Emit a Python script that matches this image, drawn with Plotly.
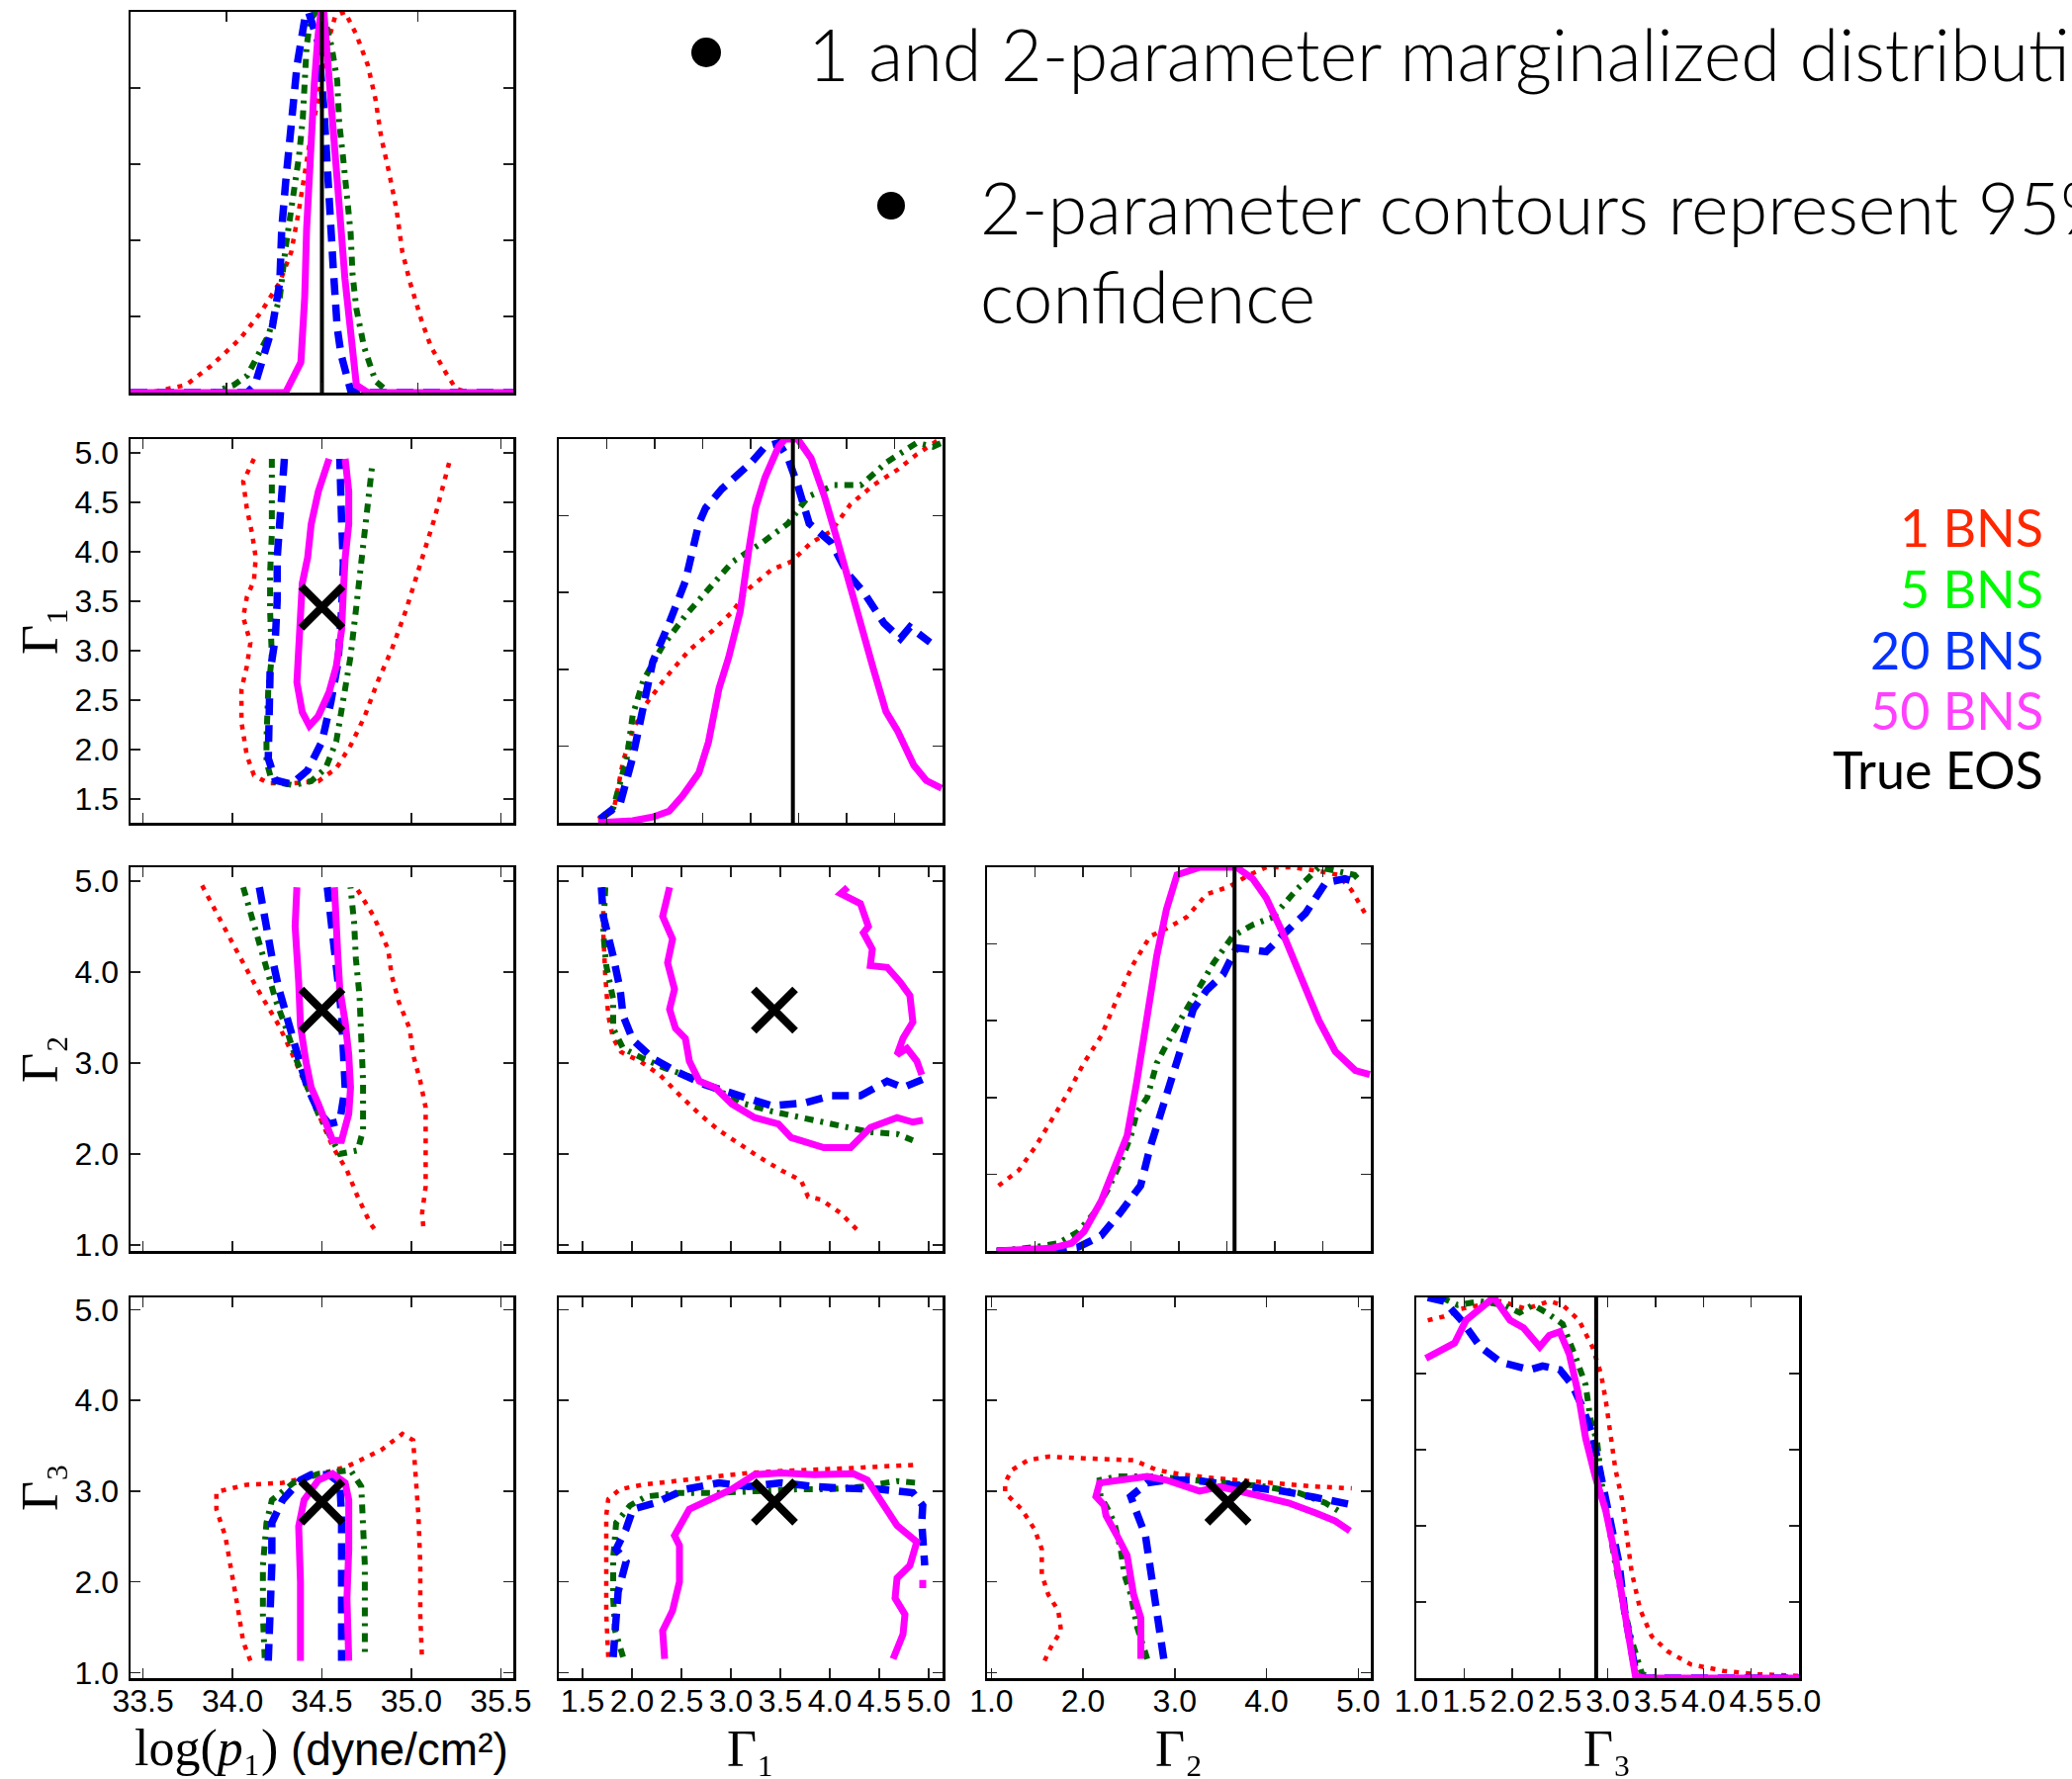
import plotly.graph_objects as go

W, H = 2095, 1799

# ---------------- true parameter values ----------------
TRUE_LOGP1 = 34.5
TRUE_G1 = 3.44
TRUE_G2 = 3.58
TRUE_G3 = 2.88

LEGEND_LABELS = ["1 BNS", "5 BNS", "20 BNS", "50 BNS", "True EOS"]

# ---------------- 1-D marginals (x, normalized density) ----------------
h_logp_red = [(33.50,0.0),(33.63,0.003),(33.79,0.02),(33.92,0.07),(34.07,0.14),(34.18,0.21),(34.28,0.29),(34.34,0.37),(34.38,0.48),(34.41,0.58),(34.44,0.67),(34.48,0.77),(34.52,0.90),(34.57,0.99),(34.62,1.0),(34.68,0.94),(34.74,0.86),(34.78,0.77),(34.81,0.67),(34.85,0.58),(34.89,0.48),(34.92,0.37),(34.96,0.29),(35.02,0.19),(35.07,0.12),(35.15,0.05),(35.20,0.01),(35.27,0.0),(35.50,0.0)]
h_logp_green = [(33.50,0.0),(33.93,0.0),(34.04,0.02),(34.11,0.045),(34.22,0.15),(34.28,0.25),(34.31,0.38),(34.35,0.52),(34.38,0.62),(34.40,0.72),(34.41,0.83),(34.42,0.91),(34.44,0.98),(34.47,1.0),(34.52,0.97),(34.55,0.91),(34.58,0.82),(34.59,0.71),(34.61,0.62),(34.63,0.51),(34.65,0.42),(34.66,0.31),(34.68,0.22),(34.72,0.12),(34.78,0.03),(34.85,0.0),(35.50,0.0)]
h_logp_blue = [(33.50,0.0),(34.11,0.0),(34.15,0.02),(34.18,0.07),(34.24,0.17),(34.28,0.29),(34.29,0.43),(34.31,0.55),(34.33,0.67),(34.35,0.77),(34.37,0.86),(34.39,0.92),(34.41,0.98),(34.43,1.0),(34.48,0.92),(34.51,0.75),(34.526,0.60),(34.544,0.41),(34.56,0.32),(34.58,0.17),(34.60,0.10),(34.65,0.006),(34.68,0.0),(35.50,0.0)]
h_logp_mag = [(33.50,0.0),(34.31,0.0),(34.39,0.08),(34.41,0.25),(34.42,0.43),(34.44,0.64),(34.46,0.81),(34.48,0.94),(34.495,1.0),(34.51,1.0),(34.52,0.94),(34.55,0.77),(34.58,0.60),(34.60,0.43),(34.62,0.30),(34.65,0.15),(34.68,0.02),(34.74,0.0),(35.50,0.0)]

h_g1_red = [(1.41,0.01),(1.57,0.03),(1.67,0.16),(1.77,0.24),(1.91,0.31),(2.12,0.38),(2.36,0.45),(2.60,0.50),(2.81,0.55),(2.98,0.61),(3.22,0.66),(3.42,0.68),(3.63,0.73),(3.84,0.76),(4.04,0.83),(4.28,0.88),(4.53,0.92),(4.73,0.96),(4.97,1.0)]
h_g1_green = [(1.43,0.01),(1.57,0.04),(1.71,0.17),(1.77,0.28),(1.88,0.37),(2.08,0.46),(2.32,0.54),(2.56,0.61),(2.81,0.68),(3.12,0.73),(3.39,0.78),(3.60,0.85),(3.87,0.88),(4.15,0.88),(4.42,0.94),(4.73,0.99),(4.90,0.98),(4.99,0.99)]
h_g1_blue = [(1.43,0.01),(1.64,0.05),(1.77,0.17),(1.88,0.30),(1.98,0.42),(2.15,0.52),(2.32,0.63),(2.46,0.78),(2.53,0.82),(2.70,0.87),(2.87,0.91),(3.01,0.94),(3.15,0.98),(3.29,0.99),(3.39,0.95),(3.49,0.88),(3.61,0.78),(3.84,0.73),(4.01,0.65),(4.18,0.60),(4.39,0.52),(4.56,0.48),(4.66,0.51),(4.87,0.47)]
h_g1_mag = [(1.41,0.0),(1.77,0.005),(1.98,0.015),(2.15,0.03),(2.29,0.07),(2.46,0.13),(2.56,0.21),(2.67,0.35),(2.77,0.43),(2.89,0.55),(2.98,0.71),(3.05,0.82),(3.15,0.90),(3.29,0.98),(3.36,1.0),(3.49,1.0),(3.63,0.95),(3.77,0.85),(3.91,0.73),(4.04,0.61),(4.18,0.49),(4.28,0.40),(4.41,0.29),(4.53,0.24),(4.70,0.15),(4.83,0.11),(4.99,0.09)]

h_g2_red = [(1.12,0.17),(1.33,0.21),(1.50,0.27),(1.67,0.34),(1.84,0.41),(2.01,0.49),(2.19,0.56),(2.36,0.66),(2.53,0.75),(2.70,0.82),(2.87,0.84),(3.08,0.87),(3.29,0.93),(3.53,0.95),(3.73,0.98),(3.91,1.0),(4.18,1.0),(4.46,0.99),(4.66,0.98),(4.80,0.94),(4.94,0.88)]
h_g2_green = [(1.10,0.0),(1.50,0.01),(1.74,0.02),(1.95,0.05),(2.12,0.10),(2.26,0.16),(2.39,0.23),(2.50,0.30),(2.56,0.36),(2.67,0.40),(2.77,0.49),(2.94,0.57),(3.15,0.66),(3.36,0.75),(3.56,0.82),(3.77,0.85),(3.98,0.87),(4.22,0.94),(4.46,1.0),(4.66,0.99),(4.83,0.98),(4.90,0.96)]
h_g2_blue = [(1.10,0.0),(1.67,0.0),(1.95,0.01),(2.19,0.04),(2.39,0.10),(2.60,0.17),(2.70,0.27),(2.81,0.36),(2.91,0.44),(3.01,0.53),(3.15,0.63),(3.29,0.68),(3.46,0.72),(3.60,0.79),(3.91,0.78),(4.11,0.83),(4.32,0.88),(4.53,0.96),(4.73,0.97),(4.87,0.96)]
h_g2_mag = [(1.10,0.0),(1.67,0.007),(1.88,0.02),(2.01,0.05),(2.19,0.13),(2.36,0.23),(2.46,0.30),(2.56,0.44),(2.67,0.62),(2.77,0.77),(2.87,0.89),(2.98,0.98),(3.22,1.0),(3.49,1.0),(3.60,1.0),(3.77,0.97),(3.91,0.92),(4.08,0.83),(4.25,0.73),(4.46,0.60),(4.63,0.52),(4.84,0.47),(4.99,0.46)]

h_g3_red = [(1.12,0.94),(1.29,0.95),(1.47,0.97),(1.67,0.98),(1.88,0.99),(2.15,0.97),(2.39,0.99),(2.53,0.98),(2.70,0.94),(2.84,0.87),(2.93,0.80),(2.98,0.73),(3.03,0.64),(3.08,0.55),(3.15,0.47),(3.20,0.38),(3.25,0.28),(3.34,0.18),(3.46,0.11),(3.63,0.07),(3.87,0.036),(4.21,0.019),(4.56,0.01),(4.99,0.006)]
h_g3_green = [(1.26,1.0),(1.43,0.98),(1.67,0.99),(1.91,0.98),(2.08,0.96),(2.22,0.98),(2.36,0.96),(2.53,0.93),(2.67,0.84),(2.77,0.77),(2.82,0.68),(2.89,0.62),(2.94,0.51),(3.01,0.40),(3.08,0.30),(3.15,0.21),(3.25,0.10),(3.36,0.01),(3.53,0.0),(5.0,0.0)]
h_g3_blue = [(1.12,1.0),(1.29,0.99),(1.47,0.94),(1.67,0.87),(1.88,0.83),(2.19,0.81),(2.32,0.82),(2.50,0.81),(2.63,0.77),(2.74,0.71),(2.84,0.64),(2.91,0.55),(3.01,0.43),(3.12,0.30),(3.18,0.17),(3.29,0.02),(3.36,0.0),(5.0,0.0)]
h_g3_mag = [(1.10,0.84),(1.26,0.86),(1.40,0.88),(1.52,0.94),(1.67,0.97),(1.81,1.0),(1.98,0.94),(2.12,0.92),(2.29,0.87),(2.39,0.90),(2.50,0.91),(2.60,0.85),(2.69,0.75),(2.77,0.63),(2.87,0.53),(2.98,0.44),(3.08,0.32),(3.18,0.17),(3.29,0.006),(3.39,0.0),(5.0,0.0)]

# ---------------- 2-D 95% contours (x, y) ----------------
c_logp_g1_red = [(34.12,4.94),(34.06,4.71),(34.08,4.44),(34.11,4.18),(34.13,3.94),(34.12,3.71),(34.08,3.54),(34.06,3.34),(34.10,3.08),(34.08,2.84),(34.05,2.61),(34.05,2.28),(34.08,1.94),(34.12,1.74),(34.20,1.66),(34.34,1.66),(34.48,1.68),(34.58,1.81),(34.66,2.04),(34.74,2.34),(34.81,2.68),(34.89,3.01),(34.97,3.41),(35.05,3.88),(35.13,4.34),(35.22,4.96)]
c_logp_g1_green = [(34.22,4.94),(34.22,4.61),(34.22,4.18),(34.21,3.78),(34.21,3.41),(34.22,2.94),(34.20,2.61),(34.19,2.11),(34.19,1.88),(34.22,1.68),(34.34,1.64),(34.44,1.68),(34.52,1.81),(34.58,2.08),(34.62,2.54),(34.66,2.94),(34.69,3.41),(34.72,3.88),(34.75,4.28),(34.77,4.64),(34.78,4.86)]
c_logp_g1_blue = [(34.29,4.94),(34.27,4.51),(34.25,3.94),(34.25,3.51),(34.24,3.14),(34.21,2.78),(34.20,2.34),(34.20,1.91),(34.24,1.69),(34.33,1.65),(34.42,1.79),(34.50,2.08),(34.55,2.48),(34.59,2.88),(34.61,3.41),(34.62,3.88),(34.61,4.31),(34.60,4.78),(34.60,4.94)]
c_logp_g1_mag = [(34.54,4.94),(34.48,4.61),(34.44,4.28),(34.42,3.94),(34.39,3.68),(34.38,3.28),(34.37,2.94),(34.36,2.68),(34.39,2.38),(34.43,2.24),(34.48,2.34),(34.54,2.58),(34.58,2.84),(34.61,3.21),(34.62,3.61),(34.63,3.94),(34.65,4.28),(34.65,4.61),(34.63,4.94)]

c_logp_g2_red_a = [(33.83,4.95),(33.92,4.61),(34.04,4.17),(34.14,3.81),(34.26,3.41),(34.32,3.16),(34.40,2.80),(34.48,2.44),(34.56,2.08),(34.64,1.82),(34.70,1.53),(34.77,1.24),(34.81,1.13)]
c_logp_g2_red_b = [(34.70,4.90),(34.79,4.61),(34.87,4.25),(34.89,3.96),(34.93,3.67),(34.99,3.38),(35.01,3.09),(35.05,2.80),(35.08,2.51),(35.08,2.08),(35.08,1.64),(35.06,1.35),(35.07,1.13)]
c_logp_g2_green = [(34.06,4.93),(34.12,4.50),(34.18,4.10),(34.24,3.70),(34.30,3.38),(34.36,3.02),(34.42,2.73),(34.48,2.44),(34.54,2.22),(34.60,2.00),(34.70,2.04),(34.73,2.26),(34.73,2.80),(34.72,3.27),(34.71,3.74),(34.69,4.14),(34.68,4.54),(34.66,4.93)]
c_logp_g2_blue = [(34.15,4.93),(34.18,4.57),(34.22,4.17),(34.26,3.81),(34.30,3.52),(34.34,3.23),(34.38,2.98),(34.42,2.73),(34.48,2.47),(34.54,2.33),(34.60,2.36),(34.63,2.73),(34.62,3.16),(34.61,3.52),(34.59,3.89),(34.57,4.25),(34.54,4.61),(34.53,4.93)]
c_logp_g2_mag = [(34.36,4.93),(34.35,4.50),(34.37,3.89),(34.38,3.41),(34.41,3.02),(34.44,2.73),(34.48,2.55),(34.52,2.33),(34.56,2.15),(34.61,2.15),(34.65,2.44),(34.66,2.73),(34.65,3.09),(34.63,3.45),(34.60,3.81),(34.59,4.14),(34.58,4.54),(34.57,4.93)]

c_g1_g2_red = [(1.71,4.93),(1.71,4.43),(1.73,3.96),(1.76,3.52),(1.81,3.27),(1.89,3.12),(2.08,3.02),(2.28,2.87),(2.48,2.65),(2.68,2.44),(2.88,2.26),(3.08,2.11),(3.28,1.97),(3.51,1.82),(3.71,1.71),(3.78,1.53),(3.91,1.50),(4.11,1.35),(4.21,1.24),(4.31,1.13)]
c_g1_g2_green = [(1.73,4.93),(1.71,4.43),(1.74,4.07),(1.81,3.70),(1.81,3.38),(1.91,3.16),(2.11,3.05),(2.34,2.94),(2.61,2.84),(2.88,2.69),(3.14,2.55),(3.41,2.47),(3.78,2.38),(4.11,2.31),(4.41,2.24),(4.68,2.22),(4.84,2.15)]
c_g1_g2_blue = [(1.69,4.93),(1.71,4.61),(1.81,4.17),(1.88,3.81),(1.91,3.52),(2.01,3.25),(2.21,3.05),(2.44,2.91),(2.74,2.76),(3.11,2.64),(3.41,2.53),(3.74,2.56),(4.01,2.64),(4.31,2.64),(4.58,2.80),(4.74,2.73),(4.94,2.82)]
c_g1_g2_mag_a = [(2.38,4.93),(2.31,4.61),(2.41,4.36),(2.36,4.10),(2.43,3.81),(2.38,3.59),(2.44,3.38),(2.54,3.27),(2.58,3.02),(2.68,2.80),(2.84,2.73),(3.01,2.55),(3.24,2.40),(3.48,2.33),(3.61,2.18),(3.94,2.07),(4.21,2.07),(4.41,2.29),(4.68,2.40),(4.84,2.35),(4.94,2.37)]
c_g1_g2_mag_b = [(4.18,4.93),(4.11,4.86),(4.31,4.75),(4.39,4.50),(4.34,4.43),(4.43,4.25),(4.41,4.07),(4.58,4.05),(4.71,3.89),(4.81,3.74),(4.84,3.45),(4.74,3.27),(4.68,3.09),(4.78,3.16),(4.88,3.02),(4.93,2.87)]

c_logp_g3_red = [(34.10,1.13),(34.06,1.34),(34.03,1.71),(34.00,2.07),(33.96,2.50),(33.91,2.80),(33.91,2.99),(34.08,3.07),(34.28,3.09),(34.44,3.16),(34.64,3.27),(34.83,3.45),(34.95,3.63),(35.01,3.56),(35.02,3.23),(35.04,2.72),(35.05,2.18),(35.05,1.63),(35.06,1.13)]
c_logp_g3_green = [(34.18,1.16),(34.17,1.63),(34.17,2.18),(34.19,2.65),(34.22,2.90),(34.34,3.09),(34.48,3.19),(34.66,3.23),(34.72,3.05),(34.73,2.72),(34.74,2.18),(34.74,1.63),(34.74,1.16)]
c_logp_g3_blue = [(34.20,1.13),(34.21,1.63),(34.22,2.18),(34.22,2.65),(34.28,2.90),(34.38,3.12),(34.44,3.18),(34.54,3.18),(34.60,3.09),(34.61,2.72),(34.61,2.18),(34.61,1.63),(34.61,1.13)]
c_logp_g3_mag = [(34.38,1.13),(34.38,2.00),(34.37,2.61),(34.40,2.90),(34.48,3.12),(34.56,3.19),(34.63,3.09),(34.65,2.90),(34.65,2.36),(34.64,1.82),(34.65,1.13)]

c_g1_g3_red = [(1.76,1.17),(1.74,1.64),(1.74,2.18),(1.74,2.73),(1.76,2.91),(1.88,3.02),(2.11,3.07),(2.51,3.12),(2.84,3.16),(3.18,3.20),(3.51,3.22),(3.84,3.23),(4.18,3.25),(4.51,3.27),(4.91,3.29)]
c_g1_g3_green = [(1.91,1.17),(1.83,1.46),(1.81,1.82),(1.81,2.26),(1.84,2.65),(1.98,2.84),(2.14,2.94),(2.48,2.98),(2.88,2.98),(3.28,3.00),(3.68,3.02),(4.01,3.02),(4.34,3.05),(4.68,3.11),(4.88,3.09)]
c_g1_g3_blue = [(1.81,1.17),(1.83,1.57),(1.86,1.89),(1.94,2.22),(1.84,2.36),(1.94,2.58),(2.01,2.80),(2.24,2.87),(2.54,3.02),(2.88,3.09),(3.18,3.05),(3.51,3.09),(3.84,3.05),(4.18,3.03),(4.51,3.02),(4.84,2.98),(4.94,2.84),(4.93,2.65),(4.94,2.26),(4.96,2.18)]
c_g1_g3_mag_a = [(2.33,1.15),(2.31,1.46),(2.41,1.68),(2.48,2.00),(2.48,2.40),(2.43,2.51),(2.58,2.80),(2.81,2.91),(3.01,3.02),(3.24,3.18),(3.51,3.20),(3.84,3.18),(4.24,3.19),(4.38,3.12),(4.51,2.91),(4.68,2.62),(4.88,2.44),(4.81,2.18),(4.68,2.04),(4.66,1.82),(4.76,1.64),(4.74,1.42),(4.64,1.15)]
c_g1_g3_mag_b = [(4.94,2.02),(4.94,1.93)]

c_g2_g3_red = [(1.58,1.13),(1.65,1.28),(1.76,1.46),(1.73,1.68),(1.62,1.86),(1.55,2.08),(1.55,2.36),(1.47,2.58),(1.33,2.80),(1.15,2.98),(1.15,3.09),(1.22,3.23),(1.40,3.34),(1.62,3.38),(2.01,3.36),(2.55,3.34),(2.81,3.23),(3.09,3.18),(3.45,3.14),(3.81,3.11),(4.17,3.07),(4.53,3.05),(4.93,3.03)]
c_g2_g3_green = [(2.70,1.15),(2.59,1.50),(2.52,1.86),(2.45,2.08),(2.41,2.36),(2.34,2.65),(2.27,2.80),(2.19,2.94),(2.18,3.12),(2.37,3.16),(2.77,3.16),(3.20,3.12),(3.63,3.09),(3.99,3.05),(4.35,2.98),(4.64,2.87),(4.82,2.76)]
c_g2_g3_blue = [(2.88,1.15),(2.84,1.42),(2.81,1.64),(2.77,1.89),(2.73,2.18),(2.68,2.51),(2.57,2.80),(2.52,2.94),(2.70,3.09),(2.91,3.12),(3.20,3.12),(3.49,3.09),(3.81,3.05),(4.17,3.00),(4.53,2.93),(4.93,2.85)]
c_g2_g3_mag = [(2.63,1.15),(2.63,1.60),(2.55,1.86),(2.48,2.29),(2.37,2.51),(2.25,2.73),(2.23,2.84),(2.14,2.94),(2.18,3.09),(2.41,3.12),(2.70,3.16),(2.91,3.12),(3.27,3.00),(3.49,3.05),(3.71,3.00),(3.99,2.93),(4.24,2.87),(4.53,2.76),(4.75,2.67),(4.91,2.56)]

# ---------------- styling ----------------
STYLE = {
    "red":   dict(color="#ff0000", width=4.5, dash="5px,7px"),
    "green": dict(color="#006400", width=6, dash="9px,7px,3px,7px"),
    "blue":  dict(color="#0000ff", width=7.5, dash="17px,10px"),
    "mag":   dict(color="#ff00ff", width=7, dash="solid"),
}
LEGEND_COLORS = ["#ff2600", "#00f900", "#0433ff", "#ff40ff", "#000000"]

cols = [(132, 519), (565, 953), (998, 1386), (1432, 1819)]
rows = [(12, 397), (444, 832), (877, 1265), (1312, 1697)]

def px_x(p):
    return p / W

def px_y(p):
    return 1 - p / H

fig = go.Figure()

def axname(k, kind):
    return kind if k == 1 else f"{kind}{k}"

def join(*segs):
    xs, ys = [], []
    for i, s in enumerate(segs):
        if i:
            xs.append(None); ys.append(None)
        xs += [p[0] for p in s]
        ys += [p[1] for p in s]
    return xs, ys

def add(k, style, *segs):
    xs, ys = join(*segs)
    fig.add_trace(go.Scatter(x=xs, y=ys, mode="lines", line=STYLE[style],
                             xaxis=axname(k, "x"), yaxis=axname(k, "y"),
                             showlegend=False, hoverinfo="skip"))

def vline(k, v):
    fig.add_trace(go.Scatter(x=[v, v], y=[-0.05, 1.05], mode="lines",
                             line=dict(color="black", width=4),
                             xaxis=axname(k, "x"), yaxis=axname(k, "y"),
                             showlegend=False, hoverinfo="skip"))

def cross(k, xv, yv):
    fig.add_trace(go.Scatter(x=[xv], y=[yv], mode="markers",
                             marker=dict(symbol="x-thin", size=42,
                                         line=dict(width=8, color="black")),
                             xaxis=axname(k, "x"), yaxis=axname(k, "y"),
                             showlegend=False, hoverinfo="skip"))

# panel 1: log p1 marginal
add(1, "red", h_logp_red); add(1, "green", h_logp_green); add(1, "blue", h_logp_blue); add(1, "mag", h_logp_mag)
vline(1, TRUE_LOGP1)
# panel 2: log p1 vs G1
add(2, "red", c_logp_g1_red); add(2, "green", c_logp_g1_green); add(2, "blue", c_logp_g1_blue); add(2, "mag", c_logp_g1_mag)
cross(2, TRUE_LOGP1, TRUE_G1)
# panel 3: G1 marginal
add(3, "red", h_g1_red); add(3, "green", h_g1_green); add(3, "blue", h_g1_blue); add(3, "mag", h_g1_mag)
vline(3, TRUE_G1)
# panel 4: log p1 vs G2
add(4, "red", c_logp_g2_red_a, c_logp_g2_red_b); add(4, "green", c_logp_g2_green); add(4, "blue", c_logp_g2_blue); add(4, "mag", c_logp_g2_mag)
cross(4, TRUE_LOGP1, TRUE_G2)
# panel 5: G1 vs G2
add(5, "red", c_g1_g2_red); add(5, "green", c_g1_g2_green); add(5, "blue", c_g1_g2_blue); add(5, "mag", c_g1_g2_mag_a, c_g1_g2_mag_b)
cross(5, TRUE_G1, TRUE_G2)
# panel 6: G2 marginal
add(6, "red", h_g2_red); add(6, "green", h_g2_green); add(6, "blue", h_g2_blue); add(6, "mag", h_g2_mag)
vline(6, TRUE_G2)
# panel 7: log p1 vs G3
add(7, "red", c_logp_g3_red); add(7, "green", c_logp_g3_green); add(7, "blue", c_logp_g3_blue); add(7, "mag", c_logp_g3_mag)
cross(7, TRUE_LOGP1, TRUE_G3)
# panel 8: G1 vs G3
add(8, "red", c_g1_g3_red); add(8, "green", c_g1_g3_green); add(8, "blue", c_g1_g3_blue); add(8, "mag", c_g1_g3_mag_a, c_g1_g3_mag_b)
cross(8, TRUE_G1, TRUE_G3)
# panel 9: G2 vs G3
add(9, "red", c_g2_g3_red); add(9, "green", c_g2_g3_green); add(9, "blue", c_g2_g3_blue); add(9, "mag", c_g2_g3_mag)
cross(9, TRUE_G2, TRUE_G3)
# panel 10: G3 marginal
add(10, "red", h_g3_red); add(10, "green", h_g3_green); add(10, "blue", h_g3_blue); add(10, "mag", h_g3_mag)
vline(10, TRUE_G3)

# ---------------- axes ----------------
TICKFONT = dict(family="Liberation Sans, Arial, sans-serif", size=32, color="black")

def axis(dom, rng, labels, standoff, dtick=None, tick0=None, tickvals=None, anchor=None):
    d = dict(domain=dom, range=rng, ticks="inside", ticklen=10, tickwidth=1.5,
             tickcolor="#222222", showline=True, linecolor="black", linewidth=2.5,
             mirror="allticks", showgrid=False, zeroline=False,
             showticklabels=labels, tickformat=".1f", tickfont=TICKFONT,
             tickangle=0, ticklabelstandoff=standoff, fixedrange=True, anchor=anchor,
             automargin=False)
    if tickvals is not None:
        d.update(tickmode="array", tickvals=tickvals)
    else:
        d.update(tickmode="linear", dtick=dtick, tick0=tick0)
    return d

panels = {
    # k: (row, col, xrange, xdtick, xtick0, yrange, ydtick, ytick0)
    1: (0, 0, [33.5, 35.5], 0.5, 33.5, [0, 1], None, None),
    2: (1, 0, [33.43, 35.57], 0.5, 33.5, [1.26, 5.14], 0.5, 1.5),
    3: (1, 1, [1.0, 5.0], 0.5, 1.0, [0, 1], None, None),
    4: (2, 0, [33.43, 35.57], 0.5, 33.5, [0.935, 5.15], 1.0, 1.0),
    5: (2, 1, [1.26, 5.14], 0.5, 1.5, [0.935, 5.15], 1.0, 1.0),
    6: (2, 2, [1.0, 5.0], 0.5, 1.0, [0, 1], None, None),
    7: (3, 0, [33.43, 35.57], 0.5, 33.5, [0.938, 5.134], 1.0, 1.0),
    8: (3, 1, [1.26, 5.14], 0.5, 1.5, [0.938, 5.134], 1.0, 1.0),
    9: (3, 2, [0.953, 5.137], 1.0, 1.0, [0.938, 5.134], 1.0, 1.0),
    10: (3, 3, [1.0, 5.0], 0.5, 1.0, [0, 1], None, None),
}

layout_axes = {}
for k, (r, c, xr, xd, x0, yr, yd, y0) in panels.items():
    xdom = [px_x(cols[c][0]), px_x(cols[c][1])]
    ydom = [px_y(rows[r][1]), px_y(rows[r][0])]
    xk = "xaxis" if k == 1 else f"xaxis{k}"
    yk = "yaxis" if k == 1 else f"yaxis{k}"
    layout_axes[xk] = axis(xdom, xr, r == 3, -7, dtick=xd, tick0=x0, anchor=axname(k, "y"))
    if yd is None:
        layout_axes[yk] = axis(ydom, yr, False, 3, tickvals=[0.2, 0.4, 0.6, 0.8], anchor=axname(k, "x"))
    else:
        layout_axes[yk] = axis(ydom, yr, c == 0 and r > 0, 3, dtick=yd, tick0=y0, anchor=axname(k, "x"))

fig.update_layout(**layout_axes)

# ---------------- annotations ----------------
ann = []
SERIF = "Liberation Serif, DejaVu Serif, serif"
SANS = "Liberation Sans, Arial, sans-serif"
SLIDE = "Lato, Open Sans, sans-serif"

def note(text, x, y, size, family, color="black", xanchor="center", yanchor="middle", angle=0, weight=None):
    f = dict(size=size, family=family, color=color)
    if weight is not None:
        f["weight"] = weight
    ann.append(dict(text=text, x=px_x(x), y=px_y(y), xref="paper", yref="paper",
                    xanchor=xanchor, yanchor=yanchor, showarrow=False, textangle=angle,
                    font=f))

# y-axis titles
note("Γ₁", 40, 638, 52, SERIF, angle=-90)
note("Γ₂", 40, 1071, 52, SERIF, angle=-90)
note("Γ₃", 40, 1504, 52, SERIF, angle=-90)
# x-axis titles
note("<span style=\"font-family:'Liberation Serif','DejaVu Serif';font-size:52px\">log(<i>p</i>₁)</span> (dyne/cm²)",
     325, 1768, 46, SANS)
note("Γ₁", 759, 1768, 52, SERIF)
note("Γ₂", 1192, 1768, 52, SERIF)
note("Γ₃", 1625, 1768, 52, SERIF)

# slide text
note("1 and 2-parameter marginalized distributions", 815, 54, 72, SLIDE, xanchor="left", weight=300)
note("2-parameter contours represent 95%", 989, 209, 72, SLIDE, xanchor="left", weight=300)
note("confidence", 989, 299, 72, SLIDE, xanchor="left", weight=300)

# legend text
for lab, colr, yc in zip(LEGEND_LABELS, LEGEND_COLORS, [533, 595, 657, 718, 778]):
    note(lab, 2068, yc, 52, SLIDE, color=colr, xanchor="right")

shapes = []
for cx, cy, rad in [(714, 53, 15), (901, 208, 14)]:
    shapes.append(dict(type="circle", xref="paper", yref="paper",
                       x0=px_x(cx - rad), x1=px_x(cx + rad), y0=px_y(cy + rad), y1=px_y(cy - rad),
                       fillcolor="black", line=dict(width=0)))

fig.update_layout(width=W, height=H,
                  margin=dict(l=0, r=0, t=0, b=0, pad=0, autoexpand=False),
                  paper_bgcolor="white", plot_bgcolor="white",
                  annotations=ann, shapes=shapes, showlegend=False)

fig.write_html("out.html", include_plotlyjs=True,
               config={"displayModeBar": False, "staticPlot": True},
               post_script="document.body.style.margin='0px';document.body.style.overflow='hidden';")
